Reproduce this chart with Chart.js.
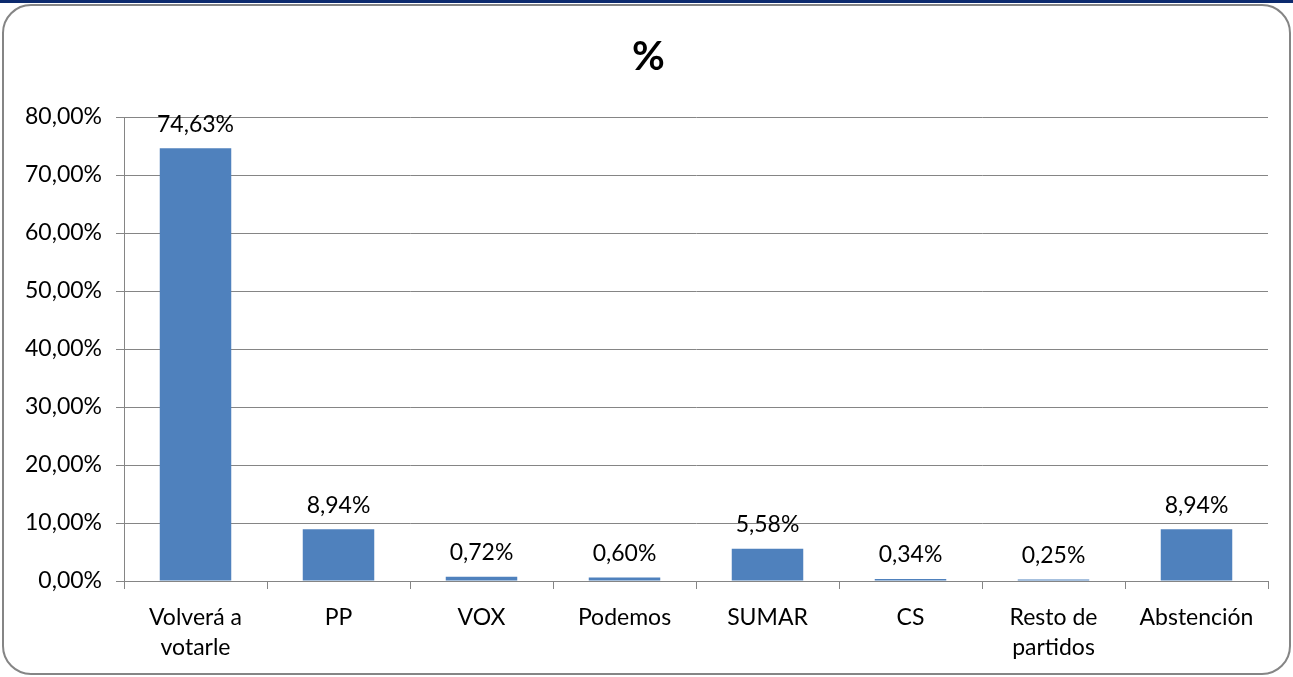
<!DOCTYPE html>
<html>
<head>
<meta charset="utf-8">
<script src="https://cdn.jsdelivr.net/npm/chart.js@4.4.1/dist/chart.umd.min.js"></script>
<style>
  html, body { margin: 0; padding: 0; background: #fff; }
  #wrap { width: 1293px; height: 677px; }
</style>
</head>
<body>
<div id="wrap"><canvas id="chart" width="1293" height="677"></canvas></div>
<script>
// chart data
const categories = [['Volverá a', 'votarle'], 'PP', 'VOX', 'Podemos', 'SUMAR', 'CS', ['Resto de', 'partidos'], 'Abstención'];
const percentValues = [74.63, 8.94, 0.72, 0.60, 5.58, 0.34, 0.25, 8.94];
const chartTitle = '%';

const FONT = 'Lato, "Open Sans", sans-serif';

function fmtPct(v, digits) {
    return v.toFixed(digits).replace('.', ',') + '%';
}

// background frame: navy strip + rounded grey border + title
const framePlugin = {
    id: 'frame',
    beforeDraw(chart) {
        const ctx = chart.ctx;
        ctx.save();
        ctx.fillStyle = '#fff';
        ctx.fillRect(0, 0, chart.width, chart.height);
        ctx.fillStyle = '#0c2a6e';
        ctx.fillRect(0, 0, chart.width, 3);
        ctx.strokeStyle = '#858585';
        ctx.lineWidth = 2;
        ctx.beginPath();
        ctx.roundRect(3, 5, chart.width - 6, chart.height - 8, 28);
        ctx.stroke();
        ctx.fillStyle = '#000';
        ctx.font = 'bold 40px ' + FONT;
        ctx.textAlign = 'center';
        ctx.textBaseline = 'middle';
        ctx.fillText(chartTitle, chart.width / 2 + 2, 57);
        ctx.restore();
    }
};

// value labels above each bar
const valueLabels = {
    id: 'valueLabels',
    afterDatasetsDraw(chart) {
        const ctx = chart.ctx;
        const meta = chart.getDatasetMeta(0);
        ctx.save();
        ctx.fillStyle = '#000';
        ctx.font = '23px ' + FONT;
        ctx.textAlign = 'center';
        ctx.textBaseline = 'middle';
        meta.data.forEach((bar, i) => {
            ctx.fillText(fmtPct(percentValues[i], 2), bar.x, bar.y - 24);
        });
        ctx.restore();
    }
};

new Chart(document.getElementById('chart').getContext('2d'), {
    type: 'bar',
    data: {
        labels: categories,
        datasets: [{
            data: percentValues,
            backgroundColor: '#4f81bd',
            borderWidth: 0,
            categoryPercentage: 1,
            barPercentage: 0.5
        }]
    },
    options: {
        responsive: false,
        animation: false,
        layout: { padding: { top: 117, right: 25, left: 0, bottom: 0 } },
        plugins: {
            legend: { display: false },
            tooltip: { enabled: false },
            title: { display: false }
        },
        scales: {
            x: {
                afterFit(scale) { scale.height = 96; },
                grid: {
                    offset: true,
                    drawOnChartArea: false,
                    drawTicks: true,
                    tickLength: 8,
                    color: '#858585',
                    lineWidth: 1
                },
                border: { color: '#858585', width: 1 },
                ticks: {
                    color: '#000',
                    font: { family: FONT, size: 23, lineHeight: 1.3 },
                    padding: 14,
                    maxRotation: 0,
                    autoSkip: false
                }
            },
            y: {
                min: 0,
                max: 80,
                afterFit(scale) { scale.width = 124; },
                grid: {
                    color: '#858585',
                    lineWidth: 1,
                    tickLength: 8
                },
                border: { color: '#858585', width: 1 },
                ticks: {
                    stepSize: 10,
                    color: '#000',
                    padding: 14,
                    font: { family: FONT, size: 23 },
                    callback: v => fmtPct(v, 2)
                }
            }
        }
    },
    plugins: [framePlugin, valueLabels]
});
</script>
</body>
</html>
